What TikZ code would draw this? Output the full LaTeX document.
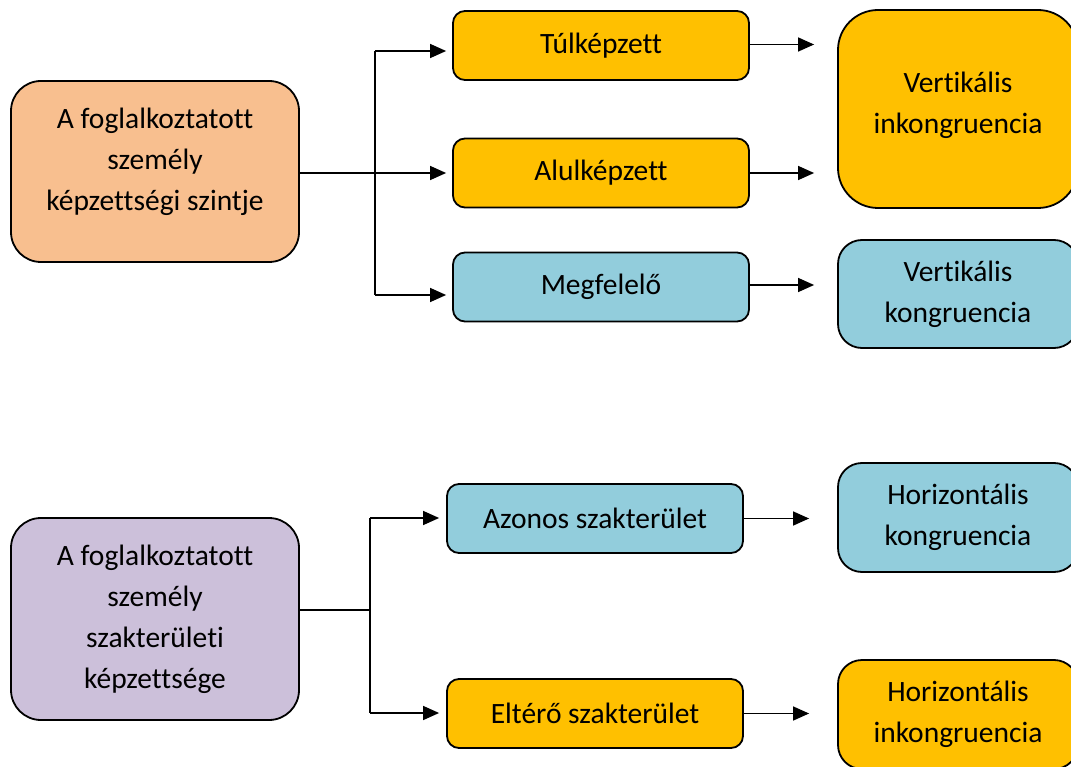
\documentclass[tikz,border=0pt]{standalone}
\usepackage{fontspec}
\setmainfont[Ligatures=NoCommon]{Carlito}
\usetikzlibrary{arrows.meta}

\definecolor{barack}{HTML}{F8BF8F}
\definecolor{arany}{HTML}{FFC000}
\definecolor{kek}{HTML}{92CDDC}
\definecolor{lila}{HTML}{CCC0DA}

\tikzset{
  doboz/.style={draw=black,line width=1.8pt,rounded corners=12pt,align=center,
    font=\fontsize{29.5}{41}\selectfont,inner sep=0pt},
  kis/.style={doboz,minimum width=296pt,minimum height=69pt},
  nagy/.style={doboz,rounded corners=28pt},
  nyil/.style={line width=1.4pt,-{Triangle[length=16pt,width=14pt]}}
}

\begin{document}
\begin{tikzpicture}[x=1pt,y=-1pt]
	\useasboundingbox (0,0) rectangle (1071,767);
	% felso resz: vertikalis
	\node[doboz,fill=barack,rounded corners=30pt,minimum width=288pt,minimum height=181pt,text depth=24pt] (szint) at (155,171.5) {A foglalkoztatott\\személy\\képzettségi szintje};
	\node[kis,fill=arany] (tulk) at (601,45.5) {Túlképzett};
	\node[kis,fill=arany] (alulk) at (601,173) {Alulképzett};
	\node[kis,fill=kek] (megf) at (601,287) {Megfelelő};
	\node[nagy,fill=arany,rounded corners=40pt,minimum width=240pt,minimum height=198pt,text depth=12pt] (vink) at (958,109) {Vertikális\\inkongruencia};
	\node[nagy,fill=kek,rounded corners=24pt,minimum width=240pt,minimum height=108pt] (vkong) at (958,294) {Vertikális\\kongruencia};
	\coordinate (ag1) at (375,173);
	\coordinate (ag1f) at (375,51);
	\coordinate (ag1a) at (375,295);
	\draw[line width=1.4pt] (szint.east |- ag1) -- (ag1);
	\draw[line width=1.4pt] (ag1f) -- (ag1a);
	\draw[nyil,shorten >=6pt] (ag1f) -- (ag1f -| tulk.west);
	\draw[nyil,shorten >=6pt] (ag1) -- (ag1 -| alulk.west);
	\draw[nyil,shorten >=6pt] (ag1a) -- (ag1a -| megf.west);
	\draw[nyil,shorten >=23pt] ([yshift=1pt]tulk.east) -- ([yshift=1pt]tulk.east -| vink.west);
	\draw[nyil,shorten >=23pt] (alulk.east) -- (alulk.east -| vink.west);
	\draw[nyil,shorten >=23pt] ([yshift=2pt]megf.east) -- ([yshift=2pt]megf.east -| vkong.west);
	% also resz: horizontalis
	\node[doboz,fill=lila,rounded corners=30pt,minimum width=288pt,minimum height=202pt] (szak) at (155,619) {A foglalkoztatott\\személy\\szakterületi\\képzettsége};
	\node[kis,fill=kek] (azon) at (595,518.5) {Azonos szakterület};
	\node[kis,fill=arany] (elter) at (595,713.5) {Eltérő szakterület};
	\node[nagy,fill=kek,rounded corners=24pt,minimum width=240pt,minimum height=109pt] (hkong) at (958,517.5) {Horizontális\\kongruencia};
	\node[nagy,fill=arany,rounded corners=24pt,minimum width=240pt,minimum height=109pt] (hink) at (958,714.5) {Horizontális\\inkongruencia};
	\coordinate (ag2) at (370,610);
	\coordinate (ag2f) at (370,518);
	\coordinate (ag2a) at (370,713);
	\draw[line width=1.4pt] (szak.east |- ag2) -- (ag2);
	\draw[line width=1.4pt] (ag2f) -- (ag2a);
	\draw[nyil,shorten >=7pt] (ag2f) -- (ag2f -| azon.west);
	\draw[nyil,shorten >=7pt] (ag2a) -- (ag2a -| elter.west);
	\draw[nyil,shorten >=28pt] (azon.east) -- (azon.east -| hkong.west);
	\draw[nyil,shorten >=28pt] (elter.east) -- (elter.east -| hink.west);
\end{tikzpicture}
\end{document}
